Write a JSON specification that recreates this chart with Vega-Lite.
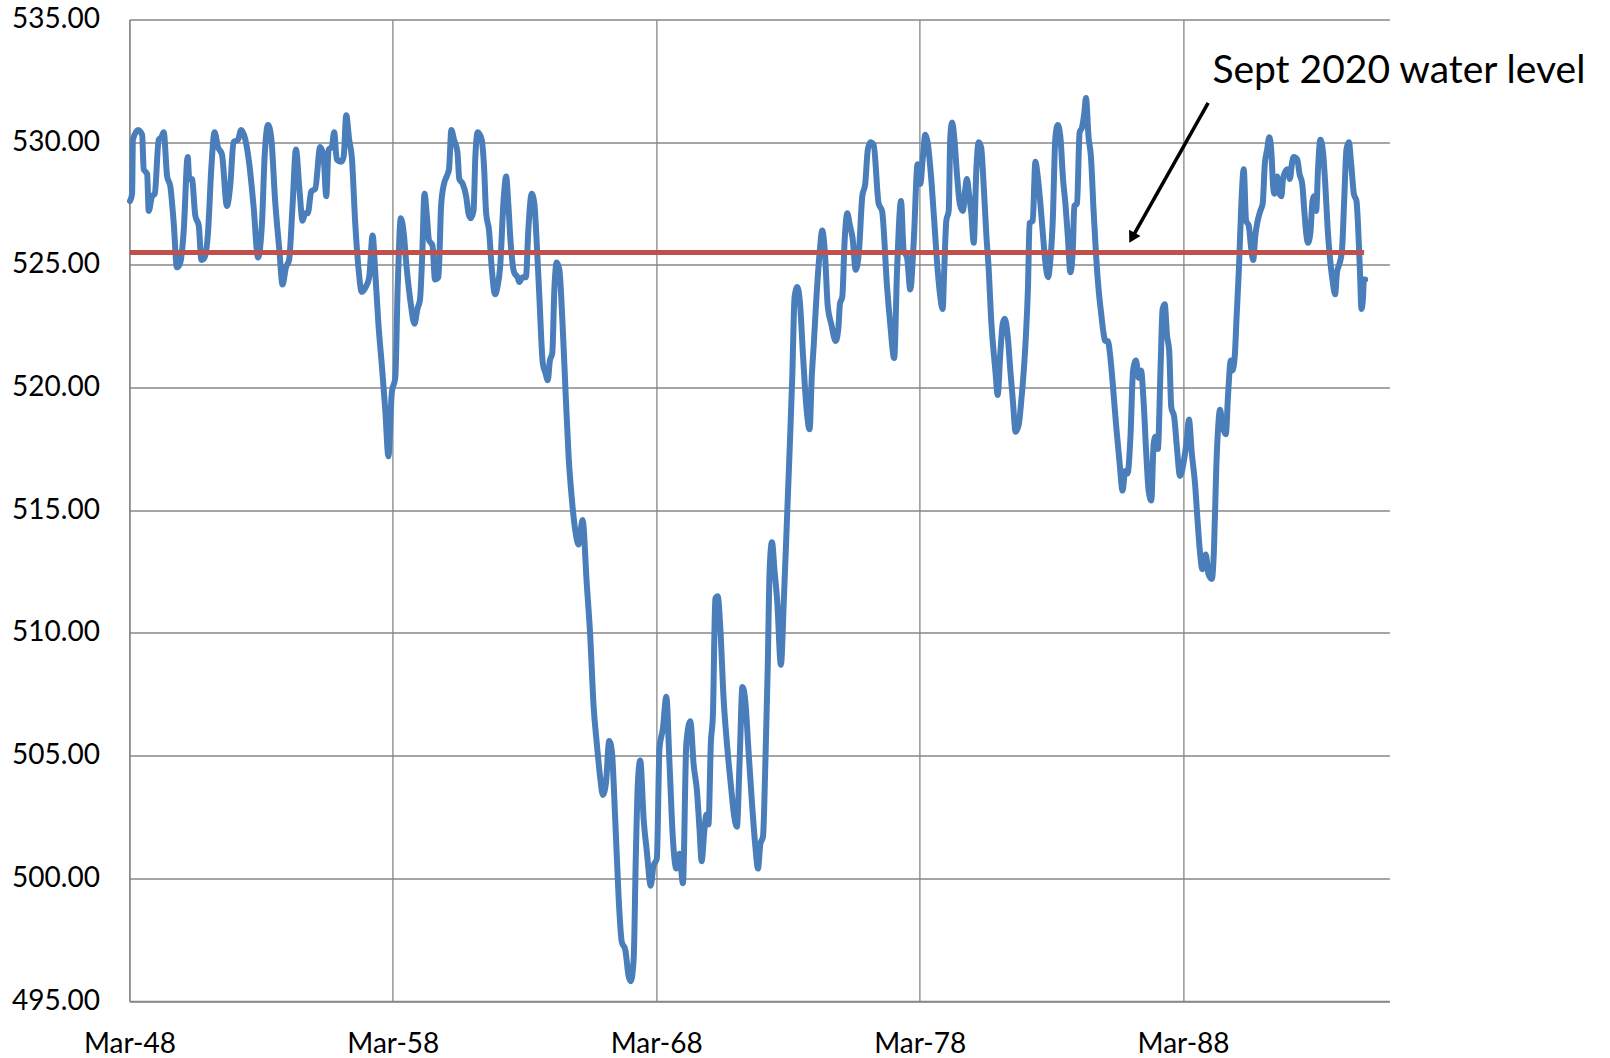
{
  "$schema": "https://vega.github.io/schema/vega-lite/v6.json",
  "width": 1260,
  "height": 981.5,
  "autosize": {"type": "none"},
  "padding": {"left": 129.4, "top": 19.5, "right": 220.6, "bottom": 57},
  "background": "white",
  "config": {
    "view": {"stroke": null},
    "axis": {"labelFont": "Lato", "labelFontSize": 28, "labelColor": "#000000", "gridColor": "#878787", "gridWidth": 1.3, "domainColor": "#878787", "domainWidth": 1.3, "ticks": false, "tickSize": 0, "title": null, "labelOverlap": false, "labelFlush": false}
  },
  "datasets": {
    "level": [
      {"year":1948.19,"level":527.6},{"year":1948.27,"level":527.9},{"year":1948.30,"level":530.1},{"year":1948.50,"level":530.5},{"year":1948.65,"level":530.3},{"year":1948.71,"level":528.9},{"year":1948.84,"level":528.7},{"year":1948.90,"level":527.2},{"year":1949.03,"level":527.8},{"year":1949.13,"level":527.9},{"year":1949.28,"level":530.1},{"year":1949.38,"level":530.2},{"year":1949.47,"level":530.4},{"year":1949.60,"level":528.6},{"year":1949.72,"level":528.2},{"year":1949.85,"level":526.7},{"year":1949.97,"level":524.9},{"year":1950.10,"level":525.1},{"year":1950.23,"level":526.4},{"year":1950.38,"level":529.4},{"year":1950.44,"level":528.5},{"year":1950.54,"level":528.5},{"year":1950.67,"level":527.0},{"year":1950.80,"level":526.6},{"year":1950.90,"level":525.2},{"year":1951.02,"level":525.3},{"year":1951.15,"level":526.3},{"year":1951.28,"level":529.0},{"year":1951.40,"level":530.4},{"year":1951.53,"level":529.8},{"year":1951.68,"level":529.5},{"year":1951.87,"level":527.4},{"year":1952.00,"level":528.3},{"year":1952.12,"level":530.0},{"year":1952.29,"level":530.1},{"year":1952.41,"level":530.5},{"year":1952.57,"level":530.1},{"year":1952.72,"level":529.1},{"year":1952.88,"level":527.4},{"year":1953.05,"level":525.3},{"year":1953.20,"level":526.7},{"year":1953.30,"level":529.4},{"year":1953.43,"level":530.7},{"year":1953.55,"level":530.2},{"year":1953.70,"level":527.6},{"year":1953.86,"level":525.6},{"year":1953.98,"level":524.2},{"year":1954.11,"level":524.9},{"year":1954.23,"level":525.2},{"year":1954.36,"level":527.4},{"year":1954.49,"level":529.7},{"year":1954.62,"level":528.1},{"year":1954.74,"level":526.8},{"year":1954.84,"level":527.1},{"year":1954.94,"level":527.1},{"year":1955.07,"level":528.0},{"year":1955.22,"level":528.1},{"year":1955.41,"level":529.8},{"year":1955.54,"level":529.4},{"year":1955.64,"level":527.8},{"year":1955.73,"level":529.7},{"year":1955.85,"level":529.8},{"year":1955.94,"level":530.4},{"year":1956.04,"level":529.3},{"year":1956.21,"level":529.2},{"year":1956.30,"level":529.4},{"year":1956.40,"level":531.1},{"year":1956.51,"level":530.1},{"year":1956.61,"level":529.4},{"year":1956.74,"level":526.7},{"year":1956.86,"level":524.9},{"year":1956.99,"level":523.9},{"year":1957.14,"level":524.1},{"year":1957.27,"level":524.5},{"year":1957.40,"level":526.2},{"year":1957.50,"level":524.7},{"year":1957.62,"level":522.6},{"year":1957.75,"level":520.9},{"year":1957.88,"level":519.1},{"year":1958.00,"level":517.2},
      {"year":1958.13,"level":519.8},{"year":1958.26,"level":520.4},{"year":1958.35,"level":524.0},{"year":1958.47,"level":526.9},{"year":1958.57,"level":526.4},{"year":1958.70,"level":524.8},{"year":1958.85,"level":523.4},{"year":1958.99,"level":522.6},{"year":1959.10,"level":523.2},{"year":1959.20,"level":523.6},{"year":1959.28,"level":525.3},{"year":1959.37,"level":527.9},{"year":1959.46,"level":527.0},{"year":1959.54,"level":526.0},{"year":1959.67,"level":525.8},{"year":1959.77,"level":524.4},{"year":1959.90,"level":524.5},{"year":1960.00,"level":527.4},{"year":1960.11,"level":528.3},{"year":1960.21,"level":528.6},{"year":1960.30,"level":528.9},{"year":1960.39,"level":530.5},{"year":1960.49,"level":530.1},{"year":1960.62,"level":529.6},{"year":1960.69,"level":528.5},{"year":1960.82,"level":528.3},{"year":1960.95,"level":527.8},{"year":1961.04,"level":527.1},{"year":1961.12,"level":526.9},{"year":1961.23,"level":527.2},{"year":1961.30,"level":529.4},{"year":1961.39,"level":530.4},{"year":1961.54,"level":530.1},{"year":1961.63,"level":529.0},{"year":1961.71,"level":527.1},{"year":1961.82,"level":526.4},{"year":1961.92,"level":524.9},{"year":1962.05,"level":523.8},{"year":1962.14,"level":524.1},{"year":1962.24,"level":524.9},{"year":1962.37,"level":527.6},{"year":1962.47,"level":528.6},{"year":1962.55,"level":527.5},{"year":1962.64,"level":525.9},{"year":1962.77,"level":524.7},{"year":1962.90,"level":524.5},{"year":1962.97,"level":524.3},{"year":1963.10,"level":524.5},{"year":1963.22,"level":524.5},{"year":1963.31,"level":526.4},{"year":1963.44,"level":527.9},{"year":1963.54,"level":527.5},{"year":1963.63,"level":525.9},{"year":1963.73,"level":523.7},{"year":1963.86,"level":521.0},{"year":1963.96,"level":520.6},{"year":1964.05,"level":520.3},{"year":1964.13,"level":521.1},{"year":1964.22,"level":521.4},{"year":1964.30,"level":524.0},{"year":1964.39,"level":525.1},{"year":1964.49,"level":524.8},{"year":1964.61,"level":522.6},
      {"year":1964.73,"level":519.7},{"year":1964.84,"level":517.2},{"year":1964.96,"level":515.5},{"year":1965.09,"level":514.2},{"year":1965.22,"level":513.6},{"year":1965.37,"level":514.6},{"year":1965.53,"level":512.0},{"year":1965.66,"level":509.9},{"year":1965.79,"level":507.0},{"year":1965.91,"level":505.5},{"year":1966.04,"level":504.1},{"year":1966.14,"level":503.4},{"year":1966.26,"level":503.9},{"year":1966.38,"level":505.6},{"year":1966.48,"level":505.2},{"year":1966.61,"level":502.4},{"year":1966.74,"level":499.2},{"year":1966.86,"level":497.4},{"year":1966.99,"level":497.1},{"year":1967.12,"level":496.0},{"year":1967.20,"level":495.8},{"year":1967.31,"level":496.7},{"year":1967.39,"level":500.8},{"year":1967.47,"level":503.9},{"year":1967.56,"level":504.8},{"year":1967.69,"level":502.4},{"year":1967.81,"level":501.1},{"year":1967.96,"level":499.7},{"year":1968.06,"level":500.5},{"year":1968.19,"level":500.8},{"year":1968.29,"level":505.3},{"year":1968.42,"level":506.1},{"year":1968.55,"level":507.4},{"year":1968.67,"level":504.7},{"year":1968.80,"level":501.6},{"year":1968.93,"level":500.4},{"year":1969.05,"level":501.0},{"year":1969.18,"level":499.8},{"year":1969.31,"level":505.5},{"year":1969.46,"level":506.4},{"year":1969.59,"level":504.6},{"year":1969.71,"level":503.6},{"year":1969.81,"level":502.0},{"year":1969.89,"level":500.7},{"year":1969.99,"level":501.9},{"year":1970.07,"level":502.6},{"year":1970.15,"level":502.2},{"year":1970.24,"level":505.5},{"year":1970.32,"level":506.7},{"year":1970.41,"level":511.4},{"year":1970.50,"level":511.5},{"year":1970.60,"level":510.2},{"year":1970.72,"level":507.4},{"year":1970.85,"level":505.5},{"year":1971.00,"level":503.8},{"year":1971.13,"level":502.5},{"year":1971.23,"level":502.1},{"year":1971.33,"level":504.7},{"year":1971.44,"level":507.8},{"year":1971.55,"level":507.2},{"year":1971.67,"level":505.2},{"year":1971.80,"level":503.1},{"year":1971.93,"level":501.3},{"year":1972.03,"level":500.4},{"year":1972.12,"level":501.4},{"year":1972.22,"level":501.7},{"year":1972.31,"level":504.7},{"year":1972.40,"level":508.6},{"year":1972.47,"level":512.5},{"year":1972.56,"level":513.7},{"year":1972.66,"level":512.5},{"year":1972.76,"level":511.3},{"year":1972.90,"level":508.7},{"year":1973.01,"level":511.3},{"year":1973.14,"level":514.9},{"year":1973.24,"level":517.7},{"year":1973.33,"level":520.4},{"year":1973.42,"level":523.7},{"year":1973.52,"level":524.1},{"year":1973.62,"level":523.5},{"year":1973.74,"level":521.3},{"year":1973.86,"level":519.3},{"year":1973.99,"level":518.3},{"year":1974.07,"level":520.4},{"year":1974.15,"level":521.8},{"year":1974.25,"level":523.7},{"year":1974.37,"level":525.5},{"year":1974.47,"level":526.4},{"year":1974.57,"level":525.5},{"year":1974.68,"level":523.3},{"year":1974.81,"level":522.6},{"year":1974.98,"level":521.9},{"year":1975.08,"level":522.4},{"year":1975.14,"level":523.4},{"year":1975.23,"level":523.7},{"year":1975.32,"level":526.0},{"year":1975.42,"level":527.1},{"year":1975.52,"level":526.6},{"year":1975.62,"level":526.1},{"year":1975.74,"level":524.8},{"year":1975.86,"level":525.5},{"year":1975.99,"level":527.8},{"year":1976.10,"level":528.3},{"year":1976.20,"level":529.7},{"year":1976.30,"level":530.0},{"year":1976.42,"level":529.9},
      {"year":1976.61,"level":527.5},{"year":1976.74,"level":527.2},{"year":1976.93,"level":524.1},{"year":1977.05,"level":522.6},{"year":1977.20,"level":521.2},{"year":1977.31,"level":524.8},{"year":1977.46,"level":527.6},{"year":1977.56,"level":525.6},{"year":1977.69,"level":525.3},{"year":1977.81,"level":524.0},{"year":1977.94,"level":525.9},{"year":1978.09,"level":529.1},{"year":1978.19,"level":528.3},{"year":1978.29,"level":529.4},{"year":1978.38,"level":530.3},{"year":1978.47,"level":530.0},{"year":1978.60,"level":528.6},{"year":1978.72,"level":526.8},{"year":1978.85,"level":524.8},{"year":1978.95,"level":523.7},{"year":1979.04,"level":523.2},{"year":1979.10,"level":524.8},{"year":1979.18,"level":526.8},{"year":1979.27,"level":527.2},{"year":1979.33,"level":530.2},{"year":1979.40,"level":530.8},{"year":1979.48,"level":530.2},{"year":1979.59,"level":528.6},{"year":1979.69,"level":527.5},{"year":1979.81,"level":527.2},{"year":1979.90,"level":528.1},{"year":1979.96,"level":528.5},{"year":1980.05,"level":527.8},{"year":1980.13,"level":527.1},{"year":1980.22,"level":525.9},{"year":1980.32,"level":528.9},{"year":1980.41,"level":530.0},{"year":1980.50,"level":529.8},{"year":1980.60,"level":528.2},{"year":1980.70,"level":526.2},{"year":1980.79,"level":524.8},{"year":1980.88,"level":522.8},{"year":1980.98,"level":521.4},{"year":1981.04,"level":520.7},{"year":1981.13,"level":519.7},{"year":1981.23,"level":521.4},{"year":1981.32,"level":522.6},{"year":1981.40,"level":522.8},{"year":1981.51,"level":522.1},{"year":1981.61,"level":520.7},{"year":1981.71,"level":519.4},{"year":1981.81,"level":518.2},{"year":1981.93,"level":518.5},{"year":1982.02,"level":519.4},{"year":1982.12,"level":520.7},{"year":1982.20,"level":522.1},{"year":1982.28,"level":524.1},{"year":1982.34,"level":526.7},{"year":1982.46,"level":526.8},{"year":1982.56,"level":529.2},{"year":1982.65,"level":528.6},{"year":1982.75,"level":527.5},{"year":1982.85,"level":526.2},{"year":1982.94,"level":525.1},{"year":1983.04,"level":524.5},{"year":1983.13,"level":525.2},{"year":1983.22,"level":526.8},{"year":1983.32,"level":530.2},{"year":1983.41,"level":530.7},{"year":1983.51,"level":530.2},{"year":1983.61,"level":528.5},{"year":1983.70,"level":527.5},{"year":1983.79,"level":526.2},{"year":1983.89,"level":524.7},{"year":1983.98,"level":525.6},{"year":1984.04,"level":527.4},{"year":1984.14,"level":527.5},{"year":1984.24,"level":530.4},{"year":1984.33,"level":530.6},{"year":1984.42,"level":531.2},{"year":1984.48,"level":531.8},{"year":1984.58,"level":530.2},{"year":1984.67,"level":529.4},{"year":1984.77,"level":527.2},{"year":1984.87,"level":525.3},{"year":1984.96,"level":524.0},{"year":1985.06,"level":523.0},{"year":1985.15,"level":522.2},{"year":1985.21,"level":521.9},{"year":1985.31,"level":521.9},{"year":1985.40,"level":521.3},{"year":1985.51,"level":520.0},{"year":1985.63,"level":518.4},{"year":1985.76,"level":516.9},{"year":1985.87,"level":515.8},{"year":1985.97,"level":516.6},{"year":1986.06,"level":516.5},{"year":1986.17,"level":518.0},{"year":1986.27,"level":520.7},{"year":1986.38,"level":521.1},{"year":1986.48,"level":520.4},{"year":1986.57,"level":520.7},{"year":1986.67,"level":519.4},{"year":1986.77,"level":517.3},{"year":1986.86,"level":515.8},{"year":1986.96,"level":515.4},{"year":1987.05,"level":517.7},{"year":1987.12,"level":518.0},{"year":1987.21,"level":517.5},{"year":1987.31,"level":520.7},{"year":1987.39,"level":523.2},{"year":1987.47,"level":523.4},{"year":1987.56,"level":522.1},{"year":1987.64,"level":521.5},{"year":1987.72,"level":519.2},{"year":1987.83,"level":518.8},{"year":1987.93,"level":517.6},{"year":1988.05,"level":516.4},{"year":1988.18,"level":516.9},{"year":1988.31,"level":517.9},{"year":1988.39,"level":518.7},{"year":1988.50,"level":517.3},{"year":1988.62,"level":516.1},{"year":1988.71,"level":514.7},{"year":1988.80,"level":513.4},{"year":1988.90,"level":512.6},{"year":1989.03,"level":513.2},{"year":1989.13,"level":512.4},{"year":1989.26,"level":512.2},{"year":1989.34,"level":513.4},{"year":1989.43,"level":516.8},{"year":1989.50,"level":518.4},{"year":1989.57,"level":519.1},{"year":1989.66,"level":518.5},{"year":1989.79,"level":518.1},{"year":1989.88,"level":519.8},{"year":1989.98,"level":521.1},{"year":1990.04,"level":520.7},{"year":1990.13,"level":521.3},{"year":1990.20,"level":522.9},{"year":1990.29,"level":524.9},{"year":1990.38,"level":527.5},{"year":1990.47,"level":528.9},{"year":1990.56,"level":526.8},{"year":1990.66,"level":526.6},{"year":1990.75,"level":525.7},{"year":1990.83,"level":525.2},{"year":1990.91,"level":526.2},{"year":1991.00,"level":526.8},{"year":1991.10,"level":527.2},{"year":1991.19,"level":527.5},{"year":1991.27,"level":529.1},{"year":1991.36,"level":529.7},{"year":1991.44,"level":530.2},{"year":1991.52,"level":529.6},{"year":1991.58,"level":528.3},{"year":1991.63,"level":527.9},{"year":1991.74,"level":528.6},{"year":1991.83,"level":527.9},{"year":1991.90,"level":527.8},{"year":1991.96,"level":528.5},{"year":1992.05,"level":528.8},{"year":1992.14,"level":528.9},{"year":1992.22,"level":528.5},{"year":1992.31,"level":529.2},{"year":1992.37,"level":529.4},{"year":1992.50,"level":529.3},{"year":1992.59,"level":528.7},{"year":1992.69,"level":528.3},{"year":1992.77,"level":527.2},{"year":1992.85,"level":526.2},{"year":1992.91,"level":525.9},{"year":1993.00,"level":526.3},{"year":1993.08,"level":527.6},{"year":1993.13,"level":527.8},{"year":1993.22,"level":527.2},{"year":1993.29,"level":528.9},{"year":1993.38,"level":530.1},{"year":1993.48,"level":529.6},{"year":1993.57,"level":528.2},{"year":1993.66,"level":526.4},{"year":1993.76,"level":525.1},{"year":1993.85,"level":524.3},{"year":1993.94,"level":523.8},{"year":1994.01,"level":524.7},{"year":1994.12,"level":525.1},{"year":1994.20,"level":525.6},{"year":1994.29,"level":527.8},{"year":1994.37,"level":529.7},{"year":1994.46,"level":530.0},{"year":1994.55,"level":529.1},{"year":1994.65,"level":527.9},{"year":1994.75,"level":527.6},{"year":1994.81,"level":526.6},{"year":1994.88,"level":524.8},{"year":1994.94,"level":523.2},{"year":1995.00,"level":523.7},{"year":1995.03,"level":524.4},{"year":1995.08,"level":524.4}
    ],
    "sept2020": [
      {"year": 1948.19, "level": 525.5},
      {"year": 1995.04, "level": 525.5}
    ],
    "note": [
      {"label": "Sept 2020 water level", "year": 1989.28, "level": 532.41, "fromYear": 1989.12, "fromLevel": 531.6, "toYear": 1986.23, "toLevel": 526.10}
    ]
  },
  "encoding": {
    "x": {
      "field": "year", "type": "quantitative",
      "scale": {"domain": [1948.167, 1996.0], "nice": false, "zero": false},
      "axis": {"values": [1948.167, 1958.167, 1968.167, 1978.167, 1988.167], "labelExpr": "'Mar-' + format(floor(datum.value) % 100, '02d')", "grid": true, "labelPadding": 29}
    },
    "y": {
      "field": "level", "type": "quantitative",
      "scale": {"domain": [495, 535], "nice": false, "zero": false},
      "axis": {"values": [495, 500, 505, 510, 515, 520, 525, 530, 535], "format": ".2f", "grid": true, "labelPadding": 30}
    }
  },
  "layer": [
    {
      "data": {"name": "level"},
      "mark": {"type": "line", "color": "#4a7ebb", "strokeWidth": 6, "strokeJoin": "round", "strokeCap": "round", "interpolate": "monotone"}
    },
    {
      "data": {"name": "sept2020"},
      "mark": {"type": "line", "color": "#c0504d", "strokeWidth": 5, "strokeCap": "butt"}
    },
    {
      "data": {"name": "note"},
      "mark": {"type": "rule", "color": "#000000", "strokeWidth": 3.5},
      "encoding": {
        "x": {"field": "fromYear", "type": "quantitative"},
        "y": {"field": "fromLevel", "type": "quantitative"},
        "x2": {"field": "toYear"},
        "y2": {"field": "toLevel"}
      }
    },
    {
      "data": {"name": "note"},
      "mark": {"type": "point", "shape": "triangle-up", "filled": true, "color": "#000000", "opacity": 1, "size": 170, "angle": 209},
      "encoding": {
        "x": {"field": "toYear", "type": "quantitative"},
        "y": {"field": "toLevel", "type": "quantitative"}
      }
    },
    {
      "data": {"name": "note"},
      "mark": {"type": "text", "font": "Lato", "fontSize": 39, "color": "#000000", "align": "left", "baseline": "alphabetic"},
      "encoding": {
        "text": {"field": "label"}
      }
    }
  ]
}
